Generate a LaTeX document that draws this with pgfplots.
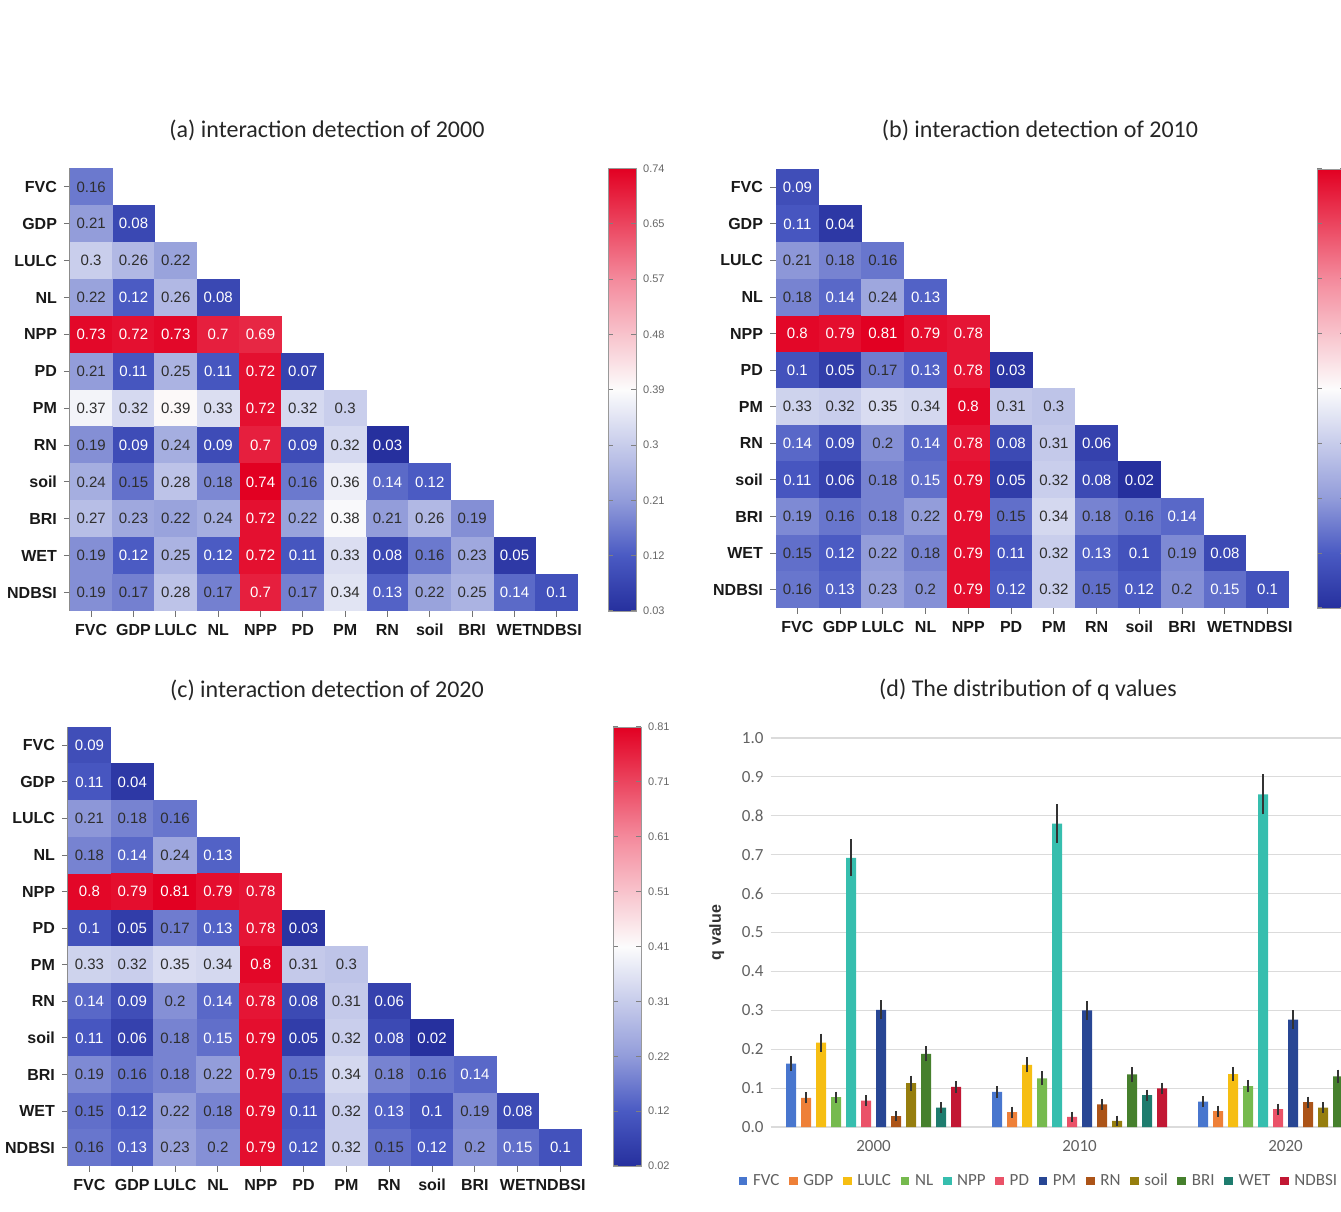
\documentclass[border=0pt]{standalone}
\usepackage{fontspec}
\setmainfont{Liberation Sans}
\newfontfamily\carlito{Carlito}
\usepackage{pgfplots}
\usepackage{pgfplotstable}
\pgfplotsset{compat=1.18}

\definecolor{cFVC}{RGB}{72,118,206}
\definecolor{cGDP}{RGB}{238,128,56}
\definecolor{cLULC}{RGB}{246,190,18}
\definecolor{cNL}{RGB}{118,186,78}
\definecolor{cNPP}{RGB}{54,190,174}
\definecolor{cPD}{RGB}{234,82,104}
\definecolor{cPM}{RGB}{40,70,148}
\definecolor{cRN}{RGB}{172,84,24}
\definecolor{cSoil}{RGB}{150,126,14}
\definecolor{cBRI}{RGB}{70,128,45}
\definecolor{cWET}{RGB}{30,124,110}
\definecolor{cNDBSI}{RGB}{194,24,52}

\pgfdeclareplotmark{cellA}{\pgfpathrectangle{\pgfpoint{-10.7pt}{-9.33pt}}{\pgfpoint{21.4pt}{18.66pt}}\pgfusepathqfill}
\pgfdeclareplotmark{cellB}{\pgfpathrectangle{\pgfpoint{-10.8pt}{-9.25pt}}{\pgfpoint{21.6pt}{18.5pt}}\pgfusepathqfill}
\pgfdeclareplotmark{cellC}{\pgfpathrectangle{\pgfpoint{-10.83pt}{-9.25pt}}{\pgfpoint{21.66pt}{18.5pt}}\pgfusepathqfill}
\pgfdeclareplotmark{nothing}{}

\pgfplotsset{
  /pgf/number format/assume math mode=true,
  colormap={qbwr}{rgb255(0cm)=(38,48,158); rgb255(1cm)=(74,90,195); rgb255(2cm)=(146,156,218); rgb255(4cm)=(252,252,252); rgb255(6cm)=(244,138,156); rgb255(8cm)=(226,0,34)},
  heat/.style={
    scale only axis,
    xmin=-0.5, xmax=11.5, ymin=-0.5, ymax=11.5,
    xtick={0,...,11}, ytick={0,...,11},
    xticklabels={FVC,GDP,LULC,NL,NPP,PD,PM,RN,soil,BRI,WET,NDBSI},
    yticklabels={NDBSI,WET,BRI,soil,RN,PM,PD,NPP,NL,LULC,GDP,FVC},
    axis x line*=bottom, axis y line*=left,
    axis line style={draw=black!45, line width=0.5pt, -},
    tick align=outside, major tick length=3pt,
    tick style={draw=black!55, line width=0.5pt},
    ticklabel style={font=\bfseries\fontsize{8}{9}\selectfont, text=black!90},
    colormap name=qbwr,
    colorbar,
    colorbar style={
      scale only axis,
      at={(parent axis.south east)}, anchor=south west,
      width=14pt,
      axis line style={draw=black!40, line width=0.4pt},
      ytick style={draw=black!50, line width=0.5pt},
      major tick length=2.5pt, tick align=inside,
      yticklabel style={font=\fontsize{5.5}{6}\selectfont, text=black!60},
    },
  },
  cellplot/.style={
    scatter, only marks, mark=#1, point meta=explicit,
    scatter/@pre marker code/.code={%
      \pgfplotscolormapdefinemappedcolor{\pgfplotspointmetatransformed}%
      \scope[draw=none, fill=mapped color]},
    scatter/@post marker code/.code={\endscope},
  },
  labelplot/.style={
    only marks, mark=nothing, point meta=explicit,
    nodes near coords={\pgfmathprintnumber[fixed,precision=2]{\pgfplotspointmeta}},
    nodes near coords align={center},
    every node near coord/.append style={inner sep=0pt, font=\fontsize{7.5}{8}\selectfont, text=#1},
  },
}

% interaction detection 2000: cells with white numbers
\pgfplotstableread{
x y v
1 10 0.08
1 8 0.12
3 8 0.08
0 7 0.73
1 7 0.72
2 7 0.73
3 7 0.70
4 7 0.69
1 6 0.11
3 6 0.11
4 6 0.72
5 6 0.07
4 5 0.72
1 4 0.09
3 4 0.09
4 4 0.70
5 4 0.09
7 4 0.03
4 3 0.74
7 3 0.14
8 3 0.12
4 2 0.72
1 1 0.12
3 1 0.12
4 1 0.72
5 1 0.11
7 1 0.08
10 1 0.05
4 0 0.70
7 0 0.13
10 0 0.14
11 0 0.10
}\tabAw
% interaction detection 2000: cells with dark numbers
\pgfplotstableread{
x y v
0 11 0.16
0 10 0.21
0 9 0.30
1 9 0.26
2 9 0.22
0 8 0.22
2 8 0.26
0 6 0.21
2 6 0.25
0 5 0.37
1 5 0.32
2 5 0.39
3 5 0.33
5 5 0.32
6 5 0.30
0 4 0.19
2 4 0.24
6 4 0.32
0 3 0.24
1 3 0.15
2 3 0.28
3 3 0.18
5 3 0.16
6 3 0.36
0 2 0.27
1 2 0.23
2 2 0.22
3 2 0.24
5 2 0.22
6 2 0.38
7 2 0.21
8 2 0.26
9 2 0.19
0 1 0.19
2 1 0.25
6 1 0.33
8 1 0.16
9 1 0.23
0 0 0.19
1 0 0.17
2 0 0.28
3 0 0.17
5 0 0.17
6 0 0.34
8 0 0.22
9 0 0.25
}\tabAd

% interaction detection 2010 (same values shown for 2020): white numbers
\pgfplotstableread{
x y v
0 11 0.09
0 10 0.11
1 10 0.04
1 8 0.14
3 8 0.13
0 7 0.80
1 7 0.79
2 7 0.81
3 7 0.79
4 7 0.78
0 6 0.10
1 6 0.05
3 6 0.13
4 6 0.78
5 6 0.03
4 5 0.80
0 4 0.14
1 4 0.09
3 4 0.14
4 4 0.78
5 4 0.08
7 4 0.06
0 3 0.11
1 3 0.06
3 3 0.15
4 3 0.79
5 3 0.05
7 3 0.08
8 3 0.02
4 2 0.79
9 2 0.14
1 1 0.12
4 1 0.79
5 1 0.11
7 1 0.13
8 1 0.10
10 1 0.08
1 0 0.13
4 0 0.79
5 0 0.12
8 0 0.12
10 0 0.15
11 0 0.10
}\tabBw
% dark numbers
\pgfplotstableread{
x y v
0 9 0.21
1 9 0.18
2 9 0.16
0 8 0.18
2 8 0.24
2 6 0.17
0 5 0.33
1 5 0.32
2 5 0.35
3 5 0.34
5 5 0.31
6 5 0.30
2 4 0.20
6 4 0.31
2 3 0.18
6 3 0.32
0 2 0.19
1 2 0.16
2 2 0.18
3 2 0.22
5 2 0.15
6 2 0.34
7 2 0.18
8 2 0.16
0 1 0.15
2 1 0.22
3 1 0.18
6 1 0.32
9 1 0.19
0 0 0.16
2 0 0.23
3 0 0.20
6 0 0.32
7 0 0.15
9 0 0.20
}\tabBd

% q values with error
\pgfplotstableread{
g FVC FVCe GDP GDPe LULC LULCe NL NLe NPP NPPe PD PDe PM PMe RN RNe soil soile BRI BRIe WET WETe NDBSI NDBSIe
0 0.163 0.010 0.075 0.005 0.217 0.014 0.077 0.005 0.692 0.038 0.068 0.005 0.301 0.015 0.028 0.004 0.113 0.010 0.188 0.010 0.050 0.005 0.103 0.006
1 0.090 0.006 0.038 0.005 0.160 0.010 0.125 0.009 0.780 0.040 0.026 0.004 0.300 0.015 0.058 0.005 0.016 0.004 0.135 0.009 0.082 0.005 0.099 0.006
2 0.065 0.005 0.041 0.005 0.136 0.009 0.105 0.007 0.855 0.042 0.046 0.005 0.276 0.015 0.064 0.005 0.050 0.005 0.130 0.008 0.080 0.005 0.100 0.006
}\qtab

\begin{document}
\begin{tikzpicture}
\useasboundingbox (0,0) rectangle (670.5pt,606pt);
\clip (0,0) rectangle (670.5pt,606pt);

% titles
\node[font=\carlito\fontsize{12}{14}\selectfont, text=black!85] at (163.5pt,541pt) {(a) interaction detection of 2000};
\node[font=\carlito\fontsize{12}{14}\selectfont, text=black!85] at (520pt,541pt) {(b) interaction detection of 2010};
\node[font=\carlito\fontsize{12}{14}\selectfont, text=black!85] at (163.5pt,261pt) {(c) interaction detection of 2020};
\node[font=\carlito\fontsize{12}{14}\selectfont, text=black!85] at (514pt,261pt) {(d) The distribution of q values};

% (a)
\begin{axis}[heat, at={(35pt,300.5pt)}, anchor=south west, width=254pt, height=221.25pt,
  point meta min=0.03, point meta max=0.74,
  colorbar style={xshift=6.5pt, ytick={0.03,0.11875,0.2075,0.29625,0.385,0.47375,0.5625,0.65125,0.74},
    yticklabels={0.03,0.12,0.21,0.3,0.39,0.48,0.57,0.65,0.74}}]
\addplot[cellplot=cellA] table[x=x, y=y, meta=v] {\tabAw};
\addplot[cellplot=cellA] table[x=x, y=y, meta=v] {\tabAd};
\addplot[labelplot=white] table[x=x, y=y, meta=v] {\tabAw};
\addplot[labelplot=black!82] table[x=x, y=y, meta=v] {\tabAd};
\end{axis}

% (b)
\begin{axis}[heat, at={(388pt,302pt)}, anchor=south west, width=256.5pt, height=219.5pt,
  point meta min=0.02, point meta max=0.81,
  colorbar style={xshift=5.5pt, ytick={0.02,0.11875,0.2175,0.31625,0.415,0.51375,0.6125,0.71125,0.81},
    yticklabels={}}]
\addplot[cellplot=cellB] table[x=x, y=y, meta=v] {\tabBw};
\addplot[cellplot=cellB] table[x=x, y=y, meta=v] {\tabBd};
\addplot[labelplot=white] table[x=x, y=y, meta=v] {\tabBw};
\addplot[labelplot=black!82] table[x=x, y=y, meta=v] {\tabBd};
\end{axis}

% (c)
\begin{axis}[heat, at={(34pt,23pt)}, anchor=south west, width=257pt, height=219.5pt,
  point meta min=0.02, point meta max=0.81,
  colorbar style={xshift=7pt, ytick={0.02,0.11875,0.2175,0.31625,0.415,0.51375,0.6125,0.71125,0.81},
    yticklabels={0.02,0.12,0.22,0.31,0.41,0.51,0.61,0.71,0.81}}]
\addplot[cellplot=cellC] table[x=x, y=y, meta=v] {\tabBw};
\addplot[cellplot=cellC] table[x=x, y=y, meta=v] {\tabBd};
\addplot[labelplot=white] table[x=x, y=y, meta=v] {\tabBw};
\addplot[labelplot=black!82] table[x=x, y=y, meta=v] {\tabBd};
\end{axis}

% (d)
\begin{axis}[
  at={(385.25pt,42.5pt)}, anchor=south west,
  scale only axis, width=309pt, height=194.5pt,
  ybar=2.5pt, bar width=5pt,
  xmin=-0.5, xmax=2.5, ymin=0, ymax=1,
  xtick={0,1,2}, xticklabels={2000,2010,2020},
  ytick={0,0.1,0.2,0.3,0.4,0.5,0.6,0.7,0.8,0.9,1},
  ymajorgrids, major grid style={draw=black!14, line width=0.6pt},
  axis line style={draw=none}, major tick length=0pt,
  ticklabel style={font=\carlito\fontsize{8.5}{9}\selectfont, text=black!62},
  xticklabel style={yshift=-3pt},
  yticklabel style={/pgf/number format/.cd, fixed, fixed zerofill, precision=1},
  ylabel={q value},
  ylabel style={font=\bfseries\fontsize{8}{9}\selectfont, text=black!80, at={(axis description cs:-0.087,0.5)}, anchor=center},
  legend columns=-1,
  legend style={draw=none, fill=none, at={(axis description cs:-0.0555,-0.139)}, anchor=west,
    font=\carlito\fontsize{8.5}{9}\selectfont, text=black!62, inner xsep=1pt,
    /tikz/every even column/.append style={column sep=2.8pt},
    /tikz/every odd column/.append style={column sep=0.8pt}},
  legend image code/.code={\fill[#1] (0pt,-2.2pt) rectangle (4.4pt,2.2pt);},
  error bars/y dir=both, error bars/y explicit,
  error bars/error bar style={draw=black!80, line width=0.9pt},
  error bars/error mark options={draw=black!80, mark size=1.8pt, line width=0.8pt},
]
\addplot[draw=none, fill=cFVC] table[x=g, y=FVC, y error=FVCe] {\qtab}; \addlegendentry{FVC}
\addplot[draw=none, fill=cGDP] table[x=g, y=GDP, y error=GDPe] {\qtab}; \addlegendentry{GDP}
\addplot[draw=none, fill=cLULC] table[x=g, y=LULC, y error=LULCe] {\qtab}; \addlegendentry{LULC}
\addplot[draw=none, fill=cNL] table[x=g, y=NL, y error=NLe] {\qtab}; \addlegendentry{NL}
\addplot[draw=none, fill=cNPP] table[x=g, y=NPP, y error=NPPe] {\qtab}; \addlegendentry{NPP}
\addplot[draw=none, fill=cPD] table[x=g, y=PD, y error=PDe] {\qtab}; \addlegendentry{PD}
\addplot[draw=none, fill=cPM] table[x=g, y=PM, y error=PMe] {\qtab}; \addlegendentry{PM}
\addplot[draw=none, fill=cRN] table[x=g, y=RN, y error=RNe] {\qtab}; \addlegendentry{RN}
\addplot[draw=none, fill=cSoil] table[x=g, y=soil, y error=soile] {\qtab}; \addlegendentry{soil}
\addplot[draw=none, fill=cBRI] table[x=g, y=BRI, y error=BRIe] {\qtab}; \addlegendentry{BRI}
\addplot[draw=none, fill=cWET] table[x=g, y=WET, y error=WETe] {\qtab}; \addlegendentry{WET}
\addplot[draw=none, fill=cNDBSI] table[x=g, y=NDBSI, y error=NDBSIe] {\qtab}; \addlegendentry{NDBSI}
\end{axis}
\end{tikzpicture}
\end{document}
